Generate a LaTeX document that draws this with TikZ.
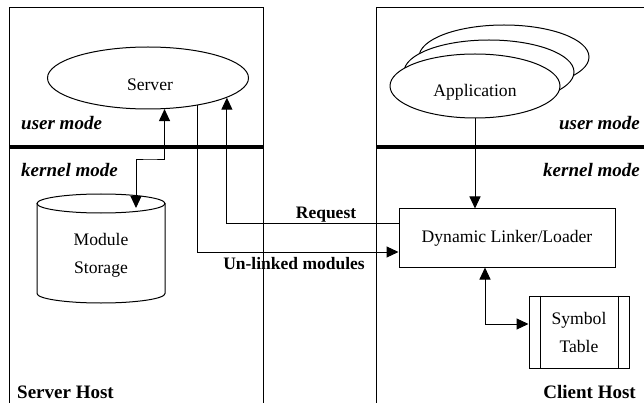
\documentclass[tikz,border=0pt]{standalone}
\usepackage{fontspec}
\setmainfont{Liberation Serif}
\usetikzlibrary{arrows.meta,shapes.geometric}

\tikzset{
  thin line/.style={line width=1pt},
  divider/.style={line width=4pt},
  tip/.style={thin line,-{Triangle[length=12pt,width=11pt]}},
  twotip/.style={thin line,{Triangle[length=12pt,width=11pt]}-{Triangle[length=12pt,width=11pt]}},
  proc/.style={ellipse,draw,thin line,fill=white,minimum width=170pt,minimum height=64pt,inner sep=0pt},
  txt/.style={font=\fontsize{17.6}{28}\selectfont,align=center,inner sep=0pt},
  modelabel/.style={font=\fontsize{19}{22}\selectfont\bfseries\itshape,inner sep=0pt},
  hostlabel/.style={font=\fontsize{19}{22}\selectfont\bfseries,inner sep=0pt},
  msglabel/.style={font=\fontsize{17.5}{20}\selectfont\bfseries,inner sep=0pt},
}

\begin{document}
\begin{tikzpicture}[x=1pt,y=-1pt]
\useasboundingbox (0,0) rectangle (644,403);

% host frames
\draw[thin line] (9,403) -- (9,8) -- (263,8) -- (263,403);
\draw[thin line] (376,403) -- (376,8) -- (644,8);
\draw[divider] (9,147) -- (263,147);
\draw[divider] (376,147) -- (644,147);

% mode and host labels
\node[modelabel,anchor=west] (umL) at (21,123) {user mode};
\node[modelabel,anchor=west] (kmL) at (21,170) {kernel mode};
\node[modelabel,anchor=east] (umR) at (640,123) {user mode};
\node[modelabel,anchor=east] (kmR) at (640,170) {kernel mode};
\node[hostlabel,anchor=west] (shost) at (17,392) {Server Host};
\node[hostlabel,anchor=east] (chost) at (636,392) {Client Host};

% server process
\node[proc,minimum width=201pt,minimum height=62pt] (server) at (148,78) {};
\node[txt] (servertxt) at (150,85) {Server};

% module storage cylinder
\draw[thin line] (101,203.5) ellipse[x radius=64, y radius=9.5];
\draw[thin line] (37,203.5) -- (37,293.5)
  arc[start angle=180, end angle=0, x radius=64, y radius=9.5] -- (165,203.5);
\node[txt] (storage) at (101,255) {Module\\Storage};
\coordinate (storetop) at (136,208);
\coordinate (bend1) at (150,160);

% stacked application processes
\node[proc] (app3) at (504,57) {};
\node[proc] (app2) at (489,72) {};
\node[proc] (app) at (475,86) {};
\node[txt] (apptxt) at (475,92) {Application};

% dynamic linker/loader
\node[draw,thin line,minimum width=216pt,minimum height=58pt,inner sep=0pt,txt] (linker) at (507,238) {Dynamic Linker/Loader};

% symbol table
\node[draw,thin line,minimum width=100pt,minimum height=72pt,txt] (symtab) at (579,332) {Symbol\\Table};
\draw[thin line] ([xshift=12pt]symtab.north west) -- ([xshift=12pt]symtab.south west);
\draw[thin line] ([xshift=-11pt]symtab.north east) -- ([xshift=-11pt]symtab.south east);

% connectors
\draw[twotip] (storetop) |- (bend1) -| (server.-62);
\draw[tip] (server.-29) |- ([yshift=-14pt]linker.west);
\draw[tip] ([yshift=15pt]linker.west) -| (server.-14);
\draw[tip] (app.south) -- (app.south |- linker.north);
\draw[twotip] ([xshift=-22pt]linker.south) |- ([yshift=8pt]symtab.west);

% message labels
\node[msglabel] (req) at (326,215) {Request};
\node[msglabel] (unl) at (294,264) {Un-linked modules};
\end{tikzpicture}
\end{document}
